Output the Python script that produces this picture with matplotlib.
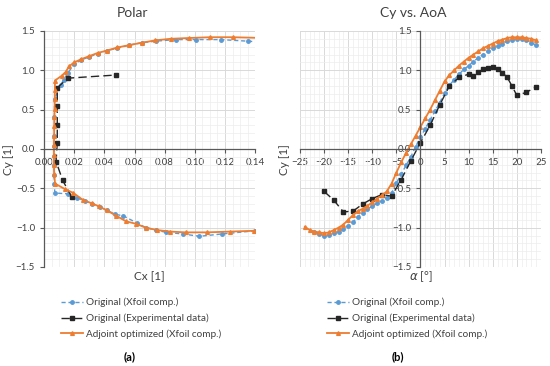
import matplotlib
matplotlib.use("Agg")
import matplotlib.pyplot as plt
from matplotlib.ticker import MultipleLocator, FuncFormatter

plt.rcParams['font.family'] = ['Lato', 'DejaVu Sans']

OUTPUT_FILENAME = 'out.png'

BLUE = '#5B9BD5'
BLACK = '#262626'
ORANGE = '#ED7D31'

LABEL_ORIG = 'Original (Xfoil comp.)'
LABEL_EXP = 'Original (Experimental data)'
LABEL_ADJ = 'Adjoint optimized (Xfoil comp.)'

# ---- polar data (Cx, Cy) ----
polar_orig_cx = [0.140, 0.118, 0.103, 0.092, 0.081, 0.074, 0.0675, 0.0615, 0.0526, 0.047,
                 0.042, 0.037, 0.032, 0.027, 0.022, 0.016, 0.0072, 0.0068, 0.0067, 0.0066,
                 0.0066, 0.0067, 0.0068, 0.0069, 0.0070, 0.0110, 0.0130, 0.0160, 0.0200, 0.0246,
                 0.0300, 0.0356, 0.0416, 0.0487, 0.0566, 0.0648, 0.0740, 0.0874, 0.101, 0.117,
                 0.135, 0.150]
polar_orig_cy = [-1.04, -1.08, -1.11, -1.08, -1.06, -1.03, -1.00, -0.94, -0.85, -0.83,
                 -0.78, -0.74, -0.70, -0.66, -0.62, -0.57, -0.56, -0.45, -0.33, -0.21,
                 -0.09, 0.04, 0.16, 0.40, 0.64, 0.81, 0.88, 0.97, 1.08, 1.13,
                 1.17, 1.21, 1.25, 1.28, 1.32, 1.35, 1.37, 1.39, 1.39, 1.39,
                 1.37, 1.35]

polar_exp_cx = [0.0184, 0.0124, 0.0080, 0.0088, 0.0088, 0.0088, 0.0088, 0.0161, 0.0480]
polar_exp_cy = [-0.61, -0.40, -0.16, 0.08, 0.30, 0.55, 0.78, 0.90, 0.94]

polar_adj_cx = [0.1393, 0.1234, 0.108, 0.094, 0.0836, 0.0748, 0.0675, 0.0608, 0.0544, 0.048,
                0.0416, 0.0365, 0.0316, 0.026, 0.0195, 0.0139, 0.0073, 0.0068, 0.0066, 0.0066,
                0.0066, 0.0067, 0.0068, 0.0069, 0.0070, 0.0071, 0.0072, 0.0073, 0.0117, 0.0144,
                0.0166, 0.0200, 0.0246, 0.0300, 0.0356, 0.0416, 0.0487, 0.0566, 0.0648, 0.0737,
                0.0840, 0.0962, 0.110, 0.125, 0.146]
polar_adj_cy = [-1.04, -1.05, -1.06, -1.06, -1.05, -1.03, -1.00, -0.95, -0.92, -0.85,
                -0.78, -0.73, -0.69, -0.65, -0.56, -0.51, -0.44, -0.32, -0.20, -0.08,
                0.05, 0.17, 0.29, 0.40, 0.51, 0.63, 0.75, 0.87, 0.93, 0.98,
                1.05, 1.10, 1.14, 1.18, 1.22, 1.25, 1.29, 1.32, 1.35, 1.38,
                1.40, 1.41, 1.42, 1.42, 1.41]

# ---- lift vs angle of attack ----
aoa_orig_alpha = list(range(-22, 25))
aoa_orig_cy = [-1.05, -1.08, -1.10, -1.09, -1.07, -1.05, -1.02, -0.98, -0.93, -0.86,
               -0.81, -0.76, -0.73, -0.69, -0.66, -0.62, -0.56, -0.43, -0.32, -0.21,
               -0.10, 0.03, 0.15, 0.26, 0.37, 0.48, 0.59, 0.71, 0.81, 0.88,
               0.95, 1.01, 1.06, 1.11, 1.16, 1.20, 1.24, 1.28, 1.31, 1.34,
               1.37, 1.39, 1.40, 1.40, 1.38, 1.35, 1.32]

aoa_exp_alpha = [-20, -18, -16, -14, -12, -10, -8, -6, -4, -2, 0, 2, 4, 6, 8, 10,
                 11, 12, 13, 14, 15, 16, 17, 18, 19, 20, 22, 24]
aoa_exp_cy = [-0.54, -0.65, -0.80, -0.79, -0.70, -0.63, -0.58, -0.60, -0.39, -0.15, 0.08,
              0.30, 0.56, 0.80, 0.91, 0.95, 0.93, 0.98, 1.01, 1.03, 1.04, 1.02, 0.97,
              0.91, 0.80, 0.68, 0.72, 0.79]

aoa_adj_alpha = list(range(-24, 25))
aoa_adj_cy = [-0.99, -1.03, -1.05, -1.06, -1.07, -1.06, -1.03, -1.00, -0.96, -0.90,
              -0.84, -0.79, -0.76, -0.72, -0.68, -0.63, -0.59, -0.54, -0.44, -0.30,
              -0.17, -0.05, 0.06, 0.17, 0.28, 0.39, 0.50, 0.62, 0.74, 0.86,
              0.94, 1.00, 1.06, 1.11, 1.16, 1.20, 1.24, 1.28, 1.31, 1.34,
              1.37, 1.39, 1.41, 1.42, 1.42, 1.42, 1.41, 1.40, 1.38]


def minus_fmt(fmt):
    return FuncFormatter(lambda v, pos: (fmt % v).replace('-', '\u2212'))


def style_axes(ax):
    for side in ('top', 'right'):
        ax.spines[side].set_visible(False)
    for side in ('left', 'bottom'):
        ax.spines[side].set_position(('data', 0))
        ax.spines[side].set_color('#595959')
        ax.spines[side].set_linewidth(0.9)
    ax.grid(which='major', color='#D9D9D9', linewidth=0.7)
    ax.grid(which='minor', color='#EDEDED', linewidth=0.5)
    ax.set_axisbelow(True)
    ax.set_ylim(-1.5, 1.5)
    ax.yaxis.set_major_locator(MultipleLocator(0.5))
    ax.yaxis.set_minor_locator(MultipleLocator(0.1))
    ax.yaxis.set_major_formatter(minus_fmt('%.1f'))
    ax.tick_params(which='major', labelsize=7, colors='#595959', length=3, width=0.8,
                   labelcolor='#404040')
    ax.tick_params(which='minor', length=0)


def plot_series(ax, x, y, kind):
    if kind == 'orig':
        return ax.plot(x, y, color=BLUE, linestyle=(0, (3, 2)), linewidth=1.0,
                       marker='o', markersize=2.5, label=LABEL_ORIG)[0]
    if kind == 'exp':
        return ax.plot(x, y, color=BLACK, linestyle=(0, (6, 3)), linewidth=1.0,
                       marker='s', markersize=2.5, label=LABEL_EXP)[0]
    return ax.plot(x, y, color=ORANGE, linestyle='-', linewidth=1.3,
                   marker='^', markersize=2.7, label=LABEL_ADJ)[0]


def main():
    fig = plt.figure(figsize=(5.5, 3.66), dpi=100)
    ax1 = fig.add_axes([0.08, 0.2705, 0.384, 0.645])
    ax2 = fig.add_axes([0.5455, 0.2705, 0.438, 0.645])

    style_axes(ax1)
    ax1.set_xlim(0, 0.14)
    ax1.xaxis.set_major_locator(MultipleLocator(0.02))
    ax1.xaxis.set_minor_locator(MultipleLocator(0.005))
    ax1.xaxis.set_major_formatter(minus_fmt('%.2f'))
    h1 = plot_series(ax1, polar_orig_cx, polar_orig_cy, 'orig')
    h2 = plot_series(ax1, polar_exp_cx, polar_exp_cy, 'exp')
    h3 = plot_series(ax1, polar_adj_cx, polar_adj_cy, 'adj')

    style_axes(ax2)
    ax2.set_xlim(-25, 25)
    ax2.xaxis.set_major_locator(MultipleLocator(5))
    ax2.xaxis.set_minor_locator(MultipleLocator(1))
    ax2.xaxis.set_major_formatter(minus_fmt('%d'))
    g1 = plot_series(ax2, aoa_orig_alpha, aoa_orig_cy, 'orig')
    g2 = plot_series(ax2, aoa_exp_alpha, aoa_exp_cy, 'exp')
    g3 = plot_series(ax2, aoa_adj_alpha, aoa_adj_cy, 'adj')

    # titles and axis titles
    fig.text(0.24, 0.965, 'Polar', ha='center', va='center', fontsize=10, color='#404040')
    fig.text(0.751, 0.965, 'Cy vs. AoA', ha='center', va='center', fontsize=10, color='#404040')
    fig.text(0.016, 0.565, 'Cy [1]', rotation=90, ha='center', va='center', fontsize=8.5,
             color='#404040')
    fig.text(0.518, 0.565, 'Cy [1]', rotation=90, ha='center', va='center', fontsize=8.5,
             color='#404040')
    fig.text(0.272, 0.245, 'Cx [1]', ha='center', va='center', fontsize=8.5, color='#404040')
    fig.text(0.766, 0.245, r'$\alpha$ [°]', ha='center', va='center', fontsize=8.5,
             color='#404040')

    for x0, handles in ((0.102, [h1, h2, h3]), (0.585, [g1, g2, g3])):
        fig.legend(handles=handles, loc='upper left', bbox_to_anchor=(x0, 0.2),
                   frameon=False, fontsize=7.2, handlelength=2.2, handletextpad=0.3,
                   labelspacing=0.62, borderpad=0, labelcolor='#404040')

    fig.text(0.236, 0.026, '(a)', ha='center', va='center', fontsize=8, fontweight='bold')
    fig.text(0.723, 0.026, '(b)', ha='center', va='center', fontsize=8, fontweight='bold')

    fig.savefig(OUTPUT_FILENAME, dpi=100)
    plt.close(fig)


if __name__ == '__main__':
    main()
